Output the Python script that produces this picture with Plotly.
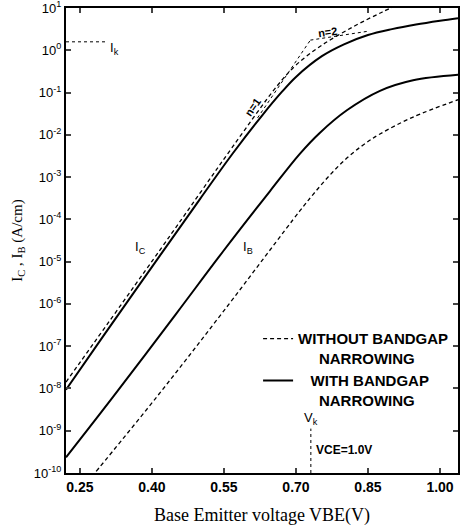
import plotly.graph_objects as go

# ---- data (log10 of current) ----
ic_bgn_v = [0.221, 0.30, 0.417, 0.50, 0.569, 0.631, 0.671, 0.70, 0.754, 0.80, 0.85, 0.90, 0.95, 1.00, 1.0375]
ic_bgn_log = [-8.03, -6.74, -4.85, -3.52, -2.43, -1.52, -0.98, -0.63, -0.14, 0.14, 0.36, 0.50, 0.61, 0.70, 0.76]

ic_nobgn_v = [0.221, 0.417, 0.50, 0.569, 0.661, 0.70, 0.754, 0.823, 0.879, 0.92]
ic_nobgn_log = [-7.85, -4.72, -3.38, -2.27, -0.84, -0.35, 0.12, 0.58, 0.90, 1.12]

ib_bgn_v = [0.221, 0.319, 0.45, 0.548, 0.646, 0.708, 0.75, 0.806, 0.875, 0.944, 1.0375]
ib_bgn_log = [-9.63, -8.20, -6.24, -4.76, -3.33, -2.45, -1.95, -1.42, -0.96, -0.71, -0.58]

ib_nobgn_v = [0.275, 0.281, 0.410, 0.55, 0.708, 0.735, 0.77, 0.806, 0.84, 0.875, 0.944, 1.0375]
ib_nobgn_log = [-10.08, -10.0, -8.20, -6.16, -3.80, -3.42, -2.96, -2.55, -2.24, -1.98, -1.58, -1.17]

n1_v = [0.62, 0.73]
n1_log = [-1.60, 0.24]
n2_v = [0.73, 0.85]
n2_log = [0.24, 0.45]
ik_v = [0.221, 0.306]
ik_log = [0.20, 0.20]
vk_v = [0.731, 0.731]
vk_log = [-10.0, -8.95]

x_ticks = [0.25, 0.40, 0.55, 0.70, 0.85, 1.00]
x_ticktext = ["0.25", "0.40", "0.55", "0.70", "0.85", "1.00"]
y_exps = [1, 0, -1, -2, -3, -4, -5, -6, -7, -8, -9, -10]

def lin(vals):
    return [10 ** v for v in vals]

NB = "\u00a0"
fig = go.Figure()
fig.add_trace(go.Scatter(x=ic_nobgn_v, y=lin(ic_nobgn_log), mode="lines", line_shape="spline",
                         line=dict(color="black", width=1.3, dash="4px,3px"),
                         name="WITHOUT BANDGAP<br>" + NB * 5 + "NARROWING",
                         legendgroup="a", showlegend=True))
fig.add_trace(go.Scatter(x=ic_bgn_v, y=lin(ic_bgn_log), mode="lines", line_shape="spline",
                         line=dict(color="black", width=2),
                         name=NB * 3 + "WITH BANDGAP<br>" + NB * 5 + "NARROWING",
                         legendgroup="b", showlegend=True))
fig.add_trace(go.Scatter(x=ib_bgn_v, y=lin(ib_bgn_log), mode="lines", line_shape="spline",
                         line=dict(color="black", width=2), showlegend=False))
fig.add_trace(go.Scatter(x=ib_nobgn_v, y=lin(ib_nobgn_log), mode="lines", line_shape="spline",
                         line=dict(color="black", width=1.3, dash="4px,3px"), showlegend=False))
for xs, ys in [(n1_v, n1_log), (n2_v, n2_log), (ik_v, ik_log), (vk_v, vk_log)]:
    fig.add_trace(go.Scatter(x=xs, y=lin(ys), mode="lines",
                             line=dict(color="black", width=1, dash="dot"), showlegend=False))

ann_font = dict(family="Liberation Sans", size=13, color="black")
annotations = [
    dict(x=0.377, y=-4.67, text="I<sub>C</sub>"),
    dict(x=0.60, y=-4.67, text="I<sub>B</sub>"),
    dict(x=0.61, y=-1.34, text="<b>n=1</b>", textangle=-55, font=dict(family="Liberation Sans", size=11, color="black")),
    dict(x=0.765, y=0.43, text="<b>n=2</b>", textangle=-8, font=dict(family="Liberation Sans", size=11, color="black")),
    dict(x=0.309, y=0.05, text="I<sub>k</sub>", xanchor="left"),
    dict(x=0.731, y=-8.70, text="V<sub>k</sub>"),
    dict(x=0.737, y=-9.45, text="<b>VCE=1.0V</b>", xanchor="left", font=dict(family="Liberation Sans", size=12, color="black")),
]
for a in annotations:
    a.setdefault("font", ann_font)
    a.update(xref="x", yref="y", showarrow=False)

fig.update_layout(
    width=471, height=526,
    margin=dict(l=66, r=13, t=8, b=53),
    plot_bgcolor="white", paper_bgcolor="white",
    annotations=annotations,
    legend=dict(x=0.49, y=0.324, xanchor="left", yanchor="top", valign="top",
                bgcolor="rgba(0,0,0,0)", tracegroupgap=0, traceorder="grouped",
                font=dict(family="Liberation Sans", size=15, color="black", weight="bold")),
    xaxis=dict(range=[0.221, 1.0375], tickvals=x_ticks, ticktext=x_ticktext, automargin=False,
               ticks="inside", ticklen=5, tickwidth=1.5, mirror="ticks", showline=True,
               linewidth=2, linecolor="black", showgrid=False, zeroline=False,
               tickfont=dict(family="Liberation Sans", size=14, color="black", weight="bold"),
               title=dict(text="Base Emitter voltage VBE(V)", standoff=18,
                          font=dict(family="Liberation Serif", size=18, color="black"))),
    yaxis=dict(type="log", range=[-10, 1], tickvals=[10.0 ** e for e in y_exps], automargin=False,
               ticktext=["10<sup>%d</sup>" % e for e in y_exps], ticklabeloverflow="allow",
               ticks="inside", ticklen=5, tickwidth=1.5, mirror="ticks", showline=True,
               linewidth=2, linecolor="black", showgrid=False, zeroline=False,
               tickfont=dict(family="Liberation Sans", size=13, color="black"),
               title=dict(text="I<sub>C</sub> , I<sub>B</sub> (A/cm)", standoff=8,
                          font=dict(family="Liberation Serif", size=15, color="black"))),
)

fig.write_html("out.html", config={"displayModeBar": False},
               post_script="document.body.style.margin='0';document.body.style.overflow='hidden';")
